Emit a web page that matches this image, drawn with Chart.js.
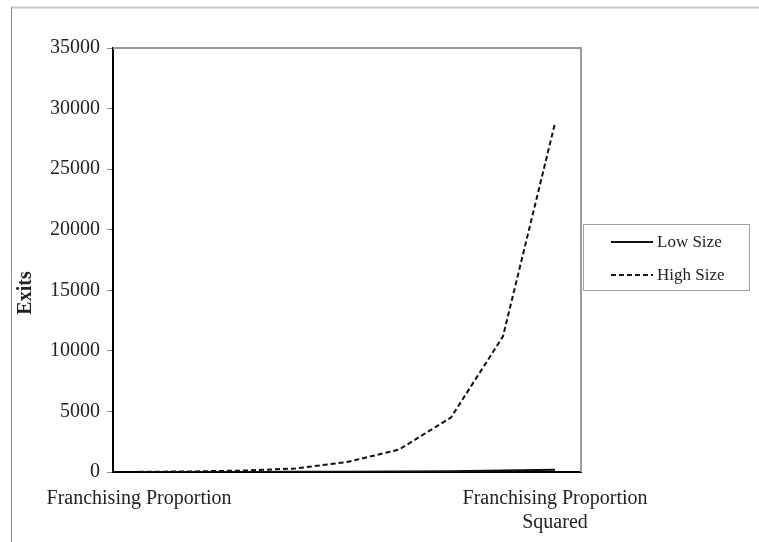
<!DOCTYPE html>
<html>
<head>
<meta charset="utf-8">
<script src="https://cdn.jsdelivr.net/npm/chart.js@4/dist/chart.umd.min.js"></script>
<style>
  html, body { margin: 0; padding: 0; background: #fff; }
  #wrap { width: 759px; height: 542px; position: relative; }
</style>
</head>
<body>
<div id="wrap"><canvas id="exitsChart"></canvas></div>
<script>
// categories: only the first and last carry a label
const categories = [
    'Franchising Proportion', '', '', '', '', '', '', '',
    ['Franchising Proportion', 'Squared']
];
const lowSize = [2, 4, 8, 15, 25, 40, 70, 115, 180];
const highSize = [18, 46, 115, 290, 820, 1850, 4500, 11200, 28800];
const yTicks = { min: 0, max: 35000, step: 5000 };
const yTitle = 'Exits';

const SERIF = '"Liberation Serif", "Times New Roman", serif';

// frame, axis title and boxed legend, drawn around the chart
const decorPlugin = {
    id: 'decor',
    beforeDraw(chart) {
        const ctx = chart.ctx;
        ctx.save();
        ctx.fillStyle = '#fff';
        ctx.fillRect(0, 0, chart.width, chart.height);
        // outer frame (top + left only, rest is off the page)
        ctx.lineWidth = 2;
        ctx.strokeStyle = '#c8c8c8';
        ctx.beginPath();
        ctx.moveTo(11, 7.5);
        ctx.lineTo(chart.width, 7.5);
        ctx.stroke();
        ctx.lineWidth = 1;
        ctx.strokeStyle = '#8a8a8a';
        ctx.beginPath();
        ctx.moveTo(11.5, 7);
        ctx.lineTo(11.5, chart.height);
        ctx.stroke();
        ctx.restore();
    },
    afterDraw(chart) {
        const ctx = chart.ctx;
        const area = chart.chartArea;
        ctx.save();
        // top and right edges of the plot box
        ctx.strokeStyle = '#9a9a9a';
        ctx.lineWidth = 2;
        ctx.beginPath();
        ctx.moveTo(area.left, area.top);
        ctx.lineTo(area.right, area.top);
        ctx.lineTo(area.right, area.bottom);
        ctx.stroke();

        // y title
        ctx.fillStyle = '#222';
        ctx.font = 'bold 20px ' + SERIF;
        ctx.textAlign = 'center';
        ctx.textBaseline = 'middle';
        ctx.translate(26, 293);
        ctx.rotate(-Math.PI / 2);
        ctx.fillText(yTitle, 0, 0);
        ctx.setTransform(1, 0, 0, 1, 0, 0);

        // legend box
        ctx.strokeStyle = '#a0a0a0';
        ctx.lineWidth = 1;
        ctx.strokeRect(583.5, 224.5, 166, 66);
        ctx.font = '17px ' + SERIF;
        ctx.textAlign = 'left';
        chart.data.datasets.forEach((ds, i) => {
            const y = 242 + i * 33;
            ctx.strokeStyle = ds.borderColor;
            ctx.lineWidth = 2;
            ctx.setLineDash(ds.borderDash || []);
            ctx.beginPath();
            ctx.moveTo(611, y);
            ctx.lineTo(653, y);
            ctx.stroke();
            ctx.setLineDash([]);
            ctx.fillStyle = '#222';
            ctx.fillText(ds.label, 657, y + 1);
        });
        ctx.restore();
    }
};

new Chart(document.getElementById('exitsChart'), {
    type: 'line',
    data: {
        labels: categories,
        datasets: [
            { label: 'Low Size', data: lowSize, borderColor: '#111', borderWidth: 2, pointRadius: 0, tension: 0 },
            { label: 'High Size', data: highSize, borderColor: '#111', borderWidth: 2, borderDash: [5, 3], pointRadius: 0, tension: 0 }
        ]
    },
    options: {
        responsive: true,
        maintainAspectRatio: false,
        animation: false,
        layout: { padding: { top: 48, right: 178, bottom: 0, left: 0 } },
        plugins: { legend: { display: false }, tooltip: { enabled: false } },
        scales: {
            x: {
                offset: true,
                grid: { display: false },
                border: { display: true, color: '#000', width: 2 },
                ticks: {
                    autoSkip: false, maxRotation: 0, padding: 7,
                    color: '#222', font: { family: SERIF, size: 20 }
                },
                afterFit: (s) => { s.height = 70; }
            },
            y: {
                min: yTicks.min,
                max: yTicks.max,
                grid: { drawOnChartArea: false, drawTicks: true, tickLength: 6, color: '#888' },
                border: { display: true, color: '#000', width: 2 },
                ticks: {
                    stepSize: yTicks.step, padding: 7,
                    callback: (v) => String(v),
                    color: '#222', font: { family: SERIF, size: 20 }
                },
                afterFit: (s) => { s.width = 113; }
            }
        }
    },
    plugins: [decorPlugin]
});
</script>
</body>
</html>
